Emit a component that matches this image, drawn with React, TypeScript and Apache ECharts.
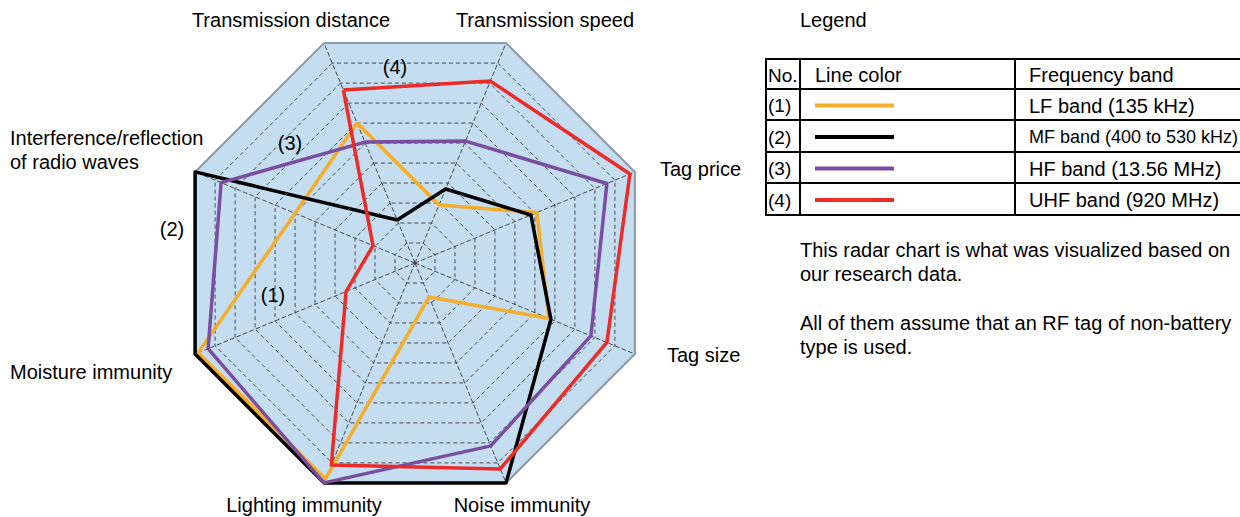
import React, { useEffect, useRef } from "react";
import * as echarts from "echarts";

// Indicators, listed counter-clockwise starting at the upper-left vertex
const axisNames = [
  "Transmission distance",
  "Interference/reflection of radio waves",
  "Moisture immunity",
  "Lighting immunity",
  "Noise immunity",
  "Tag size",
  "Tag price",
  "Transmission speed",
];
const maxValue = 11;

const lfBand = [7.0, 6.0, 10.85, 10.8, 1.7, 6.7, 6.1, 2.9];
const mfBand = [2.15, 11, 11, 11, 11, 6.8, 5.8, 3.7];
const hfBand = [6.05, 9.7, 10.35, 11, 9.15, 8.8, 9.6, 6.1];
const uhfBand = [8.65, 2.1, 3.45, 10.1, 10.3, 9.6, 10.75, 9.1];

const seriesNames = [
  "LF band (135 kHz)",
  "MF band (400 to 530 kHz)",
  "HF band (13.56 MHz)",
  "UHF band (920 MHz)",
];
const seriesTags = ["(1)", "(2)", "(3)", "(4)"];
const seriesColors = ["#f5ae2c", "#000000", "#7a4e9f", "#ea2b27"];

const descLines = [
  "This radar chart is what was visualized based on",
  "our research data.",
  "",
  "All of them assume that an RF tag of non-battery",
  "type is used.",
];

const FONT = "'Liberation Sans', Arial, Helvetica, sans-serif";

export default function App() {
  const ref = useRef<HTMLDivElement>(null);

  useEffect(() => {
    if (!ref.current) return;
    const chart = echarts.init(ref.current, undefined, { renderer: "svg" });

    const indicator = axisNames.map((n) => ({ name: n, min: 0, max: maxValue }));
    const allData = [lfBand, mfBand, hfBand, uhfBand];

    const txt = (
      text: string,
      x: number,
      y: number,
      align: string = "left",
      size: number = 20
    ) => ({
      type: "text",
      x,
      y,
      z: 100,
      silent: true,
      style: {
        text,
        fill: "#000",
        font: `${size}px ${FONT}`,
        align,
        verticalAlign: "middle",
      },
    });

    const graphics: any[] = [];
    // Axis names
    graphics.push(txt("Transmission distance", 291, 20, "center"));
    graphics.push(txt("Transmission speed", 545, 20, "center"));
    graphics.push(txt("Tag price", 660, 169));
    graphics.push(txt("Tag size", 667, 355));
    graphics.push(txt("Noise immunity", 522, 505, "center"));
    graphics.push(txt("Lighting immunity", 304, 505, "center"));
    graphics.push(txt("Moisture immunity", 10, 372));
    graphics.push(txt("Interference/reflection", 10, 138));
    graphics.push(txt("of radio waves", 10, 162));
    // Series tags near lines
    graphics.push(txt(seriesTags[3], 395, 67, "center"));
    graphics.push(txt(seriesTags[2], 290, 143, "center"));
    graphics.push(txt(seriesTags[1], 172, 229, "center"));
    graphics.push(txt(seriesTags[0], 273, 295, "center"));

    // Legend title
    graphics.push(txt("Legend", 800, 20));

    // Legend table
    const tLeft = 766;
    const tRight = 1246;
    const rowsY = [59, 89, 120, 152, 183, 215];
    const colX = [800, 1015];
    const lineStyle = { stroke: "#000", lineWidth: 2 };
    graphics.push({
      type: "rect",
      z: 100,
      shape: { x: tLeft, y: rowsY[0], width: tRight - tLeft, height: rowsY[5] - rowsY[0] },
      style: { fill: "none", ...lineStyle },
      silent: true,
    });
    for (let i = 1; i < rowsY.length - 1; i++) {
      graphics.push({
        type: "line",
        z: 100,
        shape: { x1: tLeft, y1: rowsY[i], x2: tRight, y2: rowsY[i] },
        style: lineStyle,
        silent: true,
      });
    }
    colX.forEach((cx) =>
      graphics.push({
        type: "line",
        z: 100,
        shape: { x1: cx, y1: rowsY[0], x2: cx, y2: rowsY[5] },
        style: lineStyle,
        silent: true,
      })
    );
    const rowMid = (i: number) => (rowsY[i] + rowsY[i + 1]) / 2 + 1;
    graphics.push(txt("No.", 768, rowMid(0), "left", 19));
    graphics.push(txt("Line color", 815, rowMid(0)));
    graphics.push(txt("Frequency band", 1029, rowMid(0)));
    seriesNames.forEach((name, i) => {
      const y = rowMid(i + 1);
      graphics.push(txt(seriesTags[i], 768, y, "left", 19));
      graphics.push({
        type: "line",
        z: 100,
        shape: { x1: 815, y1: y, x2: 894, y2: y },
        style: { stroke: seriesColors[i], lineWidth: 4 },
        silent: true,
      });
      graphics.push(txt(name, 1029, y, "left", i === 1 ? 18 : 20));
    });

    // Description
    descLines.forEach((l, i) => {
      if (l) graphics.push(txt(l, 800, 250 + i * 24.3));
    });

    chart.setOption({
      animation: false,
      backgroundColor: "#ffffff",
      radar: [
        {
          center: [415, 263],
          radius: 238,
          startAngle: 112.5,
          shape: "polygon",
          splitNumber: 11,
          indicator,
          axisName: { show: false },
          splitArea: { show: true, areaStyle: { color: ["#c4ddf1"] } },
          splitLine: { lineStyle: { color: "#45494e", width: 1, type: [4, 3] } },
          axisLine: { lineStyle: { color: "#45494e", width: 1, type: [4, 3] } },
          axisTick: { show: false },
          axisLabel: { show: false },
        },
        {
          center: [415, 263],
          radius: 238,
          startAngle: 112.5,
          shape: "polygon",
          splitNumber: 1,
          indicator,
          axisName: { show: false },
          splitArea: { show: false },
          axisLine: { show: false },
          splitLine: { lineStyle: { color: "#8e9ba6", width: 2 } },
          axisTick: { show: false },
          axisLabel: { show: false },
        },
      ],
      series: allData.map((vals, i) => ({
        type: "radar",
        radarIndex: 0,
        name: seriesNames[i],
        symbol: "none",
        silent: true,
        z: 3 + i,
        lineStyle: { color: seriesColors[i], width: 3.5 },
        itemStyle: { color: seriesColors[i] },
        data: [{ value: vals, name: seriesNames[i] }],
      })),
      graphic: { elements: graphics },
    });

    return () => chart.dispose();
  }, []);

  return (
    <div
      ref={ref}
      style={{ position: "fixed", left: 0, top: 0, width: 1240, height: 517, background: "#fff" }}
    />
  );
}
